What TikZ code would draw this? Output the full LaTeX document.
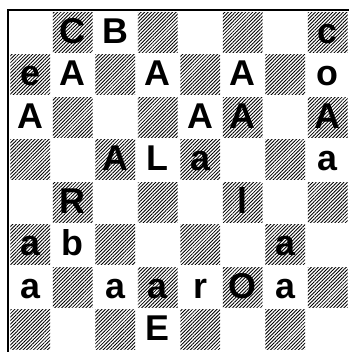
\documentclass[tikz,border=0pt]{standalone}
\usepackage{fontspec}
\setmainfont{Liberation Sans}
\usepackage{tikz}
\usetikzlibrary{patterns.meta}

\tikzset{
  darksq/.style={pattern={Lines[angle=45, distance=0.058cm, line width=0.02cm]}},
  letter/.style={anchor=base, inner sep=0pt}
}
\newcommand{\boardfont}{\fontsize{24}{28}\selectfont\bfseries}

\begin{document}
\begin{tikzpicture}
  \useasboundingbox (-0.212,-0.024) rectangle (8.0,8.259);

  % Hatched squares
  \foreach \r in {1,...,8} {
    \foreach \c in {1,...,8} {
      \pgfmathtruncatemacro\odd{mod(\r+\c,2)}
      \ifnum\odd=1
        \fill[darksq] ({\c-1+0.03}, {8-\r+0.03}) rectangle ({\c-0.03}, {9-\r-0.03});
      \fi
    }
  }

  % Board edge (top and left only)
  \draw[line width=0.055cm] (-0.024,-0.2) -- (-0.024,8.024) -- (8.2,8.024);

  % Letters: column/row/text
  \foreach \c/\r/\t in {2/1/C, 3/1/B, 8/1/c,
                        1/2/e, 2/2/A, 4/2/A, 6/2/A, 8/2/o,
                        1/3/A, 5/3/A, 6/3/A, 8/3/A,
                        3/4/A, 4/4/L, 5/4/a, 8/4/a,
                        2/5/R, 6/5/l,
                        1/6/a, 2/6/b, 7/6/a,
                        1/7/a, 3/7/a, 4/7/a, 5/7/r, 6/7/O, 7/7/a,
                        4/8/E} {
    \node[letter] (sq\c\r) at ({\c-0.5}, {8-\r+0.24}) {\boardfont\t};
  }
\end{tikzpicture}
\end{document}
